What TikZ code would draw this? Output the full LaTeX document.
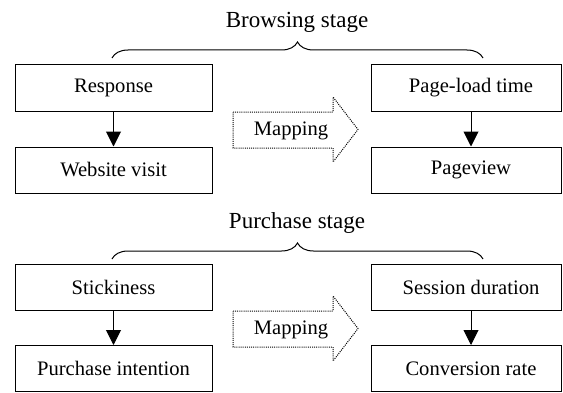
\documentclass[tikz,border=0pt]{standalone}
\usepackage{fontspec}
\setmainfont{Liberation Serif}
\usetikzlibrary{arrows.meta,decorations.pathreplacing}

\tikzset{
  stagebox/.style={draw, line width=1pt, inner sep=0pt, minimum height=46pt,
                   font=\fontsize{20.6}{24}\selectfont},
  leftbox/.style={stagebox, minimum width=197pt},
  rightbox/.style={stagebox, minimum width=190pt},
  flow/.style={line width=1pt, -{Triangle[length=15pt,width=15pt]}},
  stagetitle/.style={anchor=base, inner sep=0pt, font=\fontsize{23}{27}\selectfont},
  stagebrace/.style={line width=1pt, decorate, decoration={brace, amplitude=16pt}},
  mapshape/.style={line width=1pt, dash pattern=on 1pt off 1.1pt, line join=miter},
  maptext/.style={inner sep=0pt, font=\fontsize{20.6}{24}\selectfont}
}
% text in the right-hand boxes sits a little right of the box centre
\newcommand{\rightpad}[1]{\hspace*{10pt}#1}

\begin{document}
\begin{tikzpicture}[x=1pt, y=1pt]
\useasboundingbox (0,0) rectangle (563,392);

% ---------- Browsing stage ----------
\node[stagetitle] (btitle) at (297,364) {Browsing stage};
\draw[stagebrace] (112,334) -- (483,334);

\node[leftbox]  (resp) at (113.5,304) {Response};
\node[leftbox]  (web)  at (113.5,222) {Website visit};
\node[rightbox] (plt)  at (466,304) {\rightpad{Page-load time}};
\node[rightbox] (pv)   at (466,222) {\rightpad{Pageview}};

\draw[flow] (resp) -- (web);
\draw[flow] ([xshift=5pt]plt.south) -- ([xshift=5pt]pv.north);

\draw[mapshape] (233,280) -- (333,280) -- (333,295) -- (358,262.5)
   -- (333,230) -- (333,244) -- (233,244) -- cycle;
\node[maptext] (bmap) at (291,261) {Mapping};

% ---------- Purchase stage ----------
\node[stagetitle] (ptitle) at (297,164) {Purchase stage};
\draw[stagebrace] (112,133) -- (483,133);

\node[leftbox]  (stick) at (113.5,105) {Stickiness};
\node[leftbox]  (pint)  at (113.5,23.5) {Purchase intention};
\node[rightbox] (sdur)  at (466,105) {\rightpad{Session duration}};
\node[rightbox] (conv)  at (466,23.5) {\rightpad{Conversion rate}};

\draw[flow] (stick) -- (pint);
\draw[flow] ([xshift=5pt]sdur.south) -- ([xshift=5pt]conv.north);

\draw[mapshape] (233,81) -- (333,81) -- (333,96) -- (358,63.5)
   -- (333,31) -- (333,45) -- (233,45) -- cycle;
\node[maptext] (pmap) at (291,62) {Mapping};
\end{tikzpicture}
\end{document}
